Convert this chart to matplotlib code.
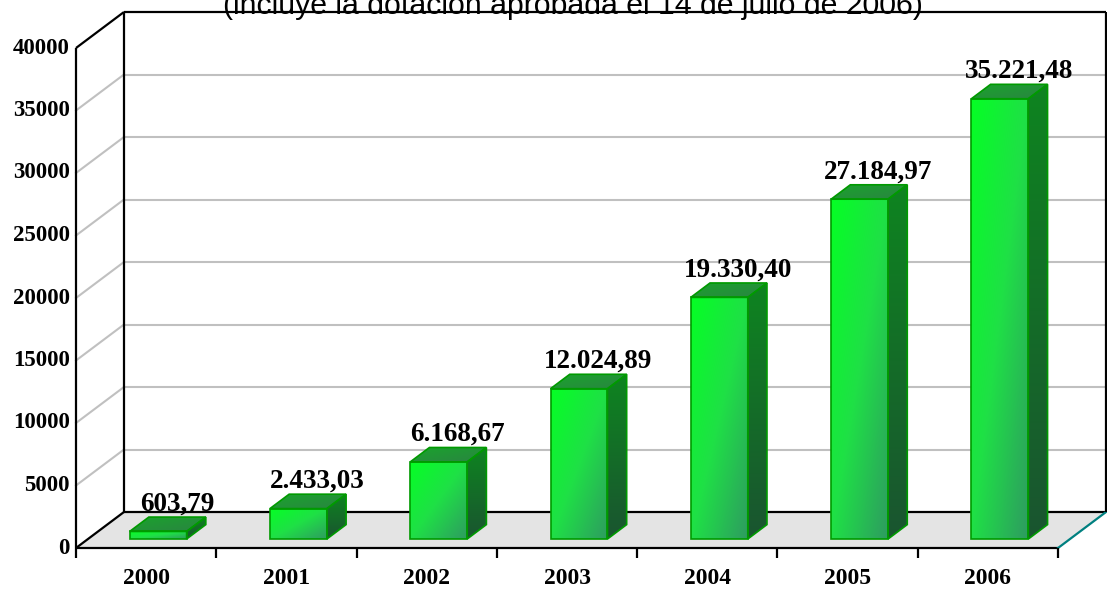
import numpy as np
import matplotlib
matplotlib.use('Agg')  # sin pantalla

import matplotlib.pyplot as plt
from matplotlib.colors import LinearSegmentedColormap
from matplotlib.patches import Polygon

# Datos
anos = ['2000', '2001', '2002', '2003', '2004', '2005', '2006']
valores = [603.79, 2433.03, 6168.67, 12024.89, 19330.40, 27184.97, 35221.48]
ticks_y = [0, 5000, 10000, 15000, 20000, 25000, 30000, 35000, 40000]
titulo = '(incluye la dotación aprobada el 14 de julio de 2006)'

# Perspectiva (en unidades de datos)
PROF_X, PROF_Y = 0.342, 2880       # fondo del suelo
INI = 0.25                          # profundidad donde empieza la barra
FON = 0.40                          # profundidad de la barra
ANCHO = 0.406                       # ancho de la cara frontal
YMAX = 40000

cmap_frente = LinearSegmentedColormap.from_list('frente', ['#05ff25', '#1fe046', '#2e9c60'])
cmap_lado = LinearSegmentedColormap.from_list('lado', ['#0e8420', '#1a5530'])
cmap_arriba = LinearSegmentedColormap.from_list('arriba', ['#1aa42c', '#2a8442'])
borde = '#009a00'


def degradado(ax, extent, cmap, clip=None, diagonal=True, z=3):
    u, v = np.meshgrid(np.linspace(0, 1, 64), np.linspace(0, 1, 64))
    t = (u + v) / 2 if diagonal else v
    im = ax.imshow(t, cmap=cmap, extent=extent, origin='upper', aspect='auto',
                   interpolation='bilinear', zorder=z, vmin=0, vmax=1)
    if clip is not None:
        im.set_clip_path(clip)
    return im


fig = plt.figure(figsize=(11.07, 5.92), dpi=100)
ax = fig.add_axes([0, 0, 1, 1])

n = len(anos)
negro = dict(color='black', lw=1.6, zorder=2, solid_capstyle='butt')

# Suelo
suelo = Polygon([(0, 0), (n, 0), (n + PROF_X, PROF_Y), (PROF_X, PROF_Y)],
                closed=True, facecolor='#e4e4e4', edgecolor='none', zorder=1)
ax.add_patch(suelo)
ax.plot([0, n], [0, 0], **negro)
ax.plot([0, PROF_X], [0, PROF_Y], **negro)
ax.plot([PROF_X, n + PROF_X], [PROF_Y, PROF_Y], **negro)
ax.plot([n, n + PROF_X], [0, PROF_Y], color='#008080', lw=1.6, zorder=2)

# Rejilla en paredes
for t in ticks_y[1:-1]:
    ax.plot([0, PROF_X], [t, t + PROF_Y], color='#c0c0c0', lw=1.5, zorder=1)
    ax.plot([PROF_X, n + PROF_X], [t + PROF_Y, t + PROF_Y], color='#c0c0c0', lw=1.5, zorder=1)

# Bordes de las paredes
ax.plot([0, 0], [0, YMAX], **negro)
ax.plot([0, PROF_X], [YMAX, YMAX + PROF_Y], **negro)
ax.plot([PROF_X, PROF_X], [PROF_Y, YMAX + PROF_Y], **negro)
ax.plot([PROF_X, n + PROF_X], [YMAX + PROF_Y, YMAX + PROF_Y], **negro)
ax.plot([n + PROF_X, n + PROF_X], [PROF_Y, YMAX + PROF_Y], **negro)

# Marcas del eje X
for i in range(n + 1):
    ax.plot([i, i], [0, -800], **negro)

# Barras
dx0, dy0 = PROF_X * INI, PROF_Y * INI
dxb, dyb = PROF_X * FON, PROF_Y * FON
for i, v in enumerate(valores):
    x0 = i + 0.5 + dx0 - ANCHO / 2
    x1 = x0 + ANCHO
    y0 = dy0
    y1 = dy0 + v

    # lado derecho
    lado = Polygon([(x1, y0), (x1 + dxb, y0 + dyb), (x1 + dxb, y1 + dyb), (x1, y1)],
                   closed=True, facecolor='none', edgecolor=borde, lw=1.2, zorder=4)
    ax.add_patch(lado)
    degradado(ax, [x1, x1 + dxb, y0, y1 + dyb], cmap_lado, clip=lado, diagonal=False)

    # tapa
    tapa = Polygon([(x0, y1), (x1, y1), (x1 + dxb, y1 + dyb), (x0 + dxb, y1 + dyb)],
                   closed=True, facecolor='none', edgecolor=borde, lw=1.2, zorder=4)
    ax.add_patch(tapa)
    degradado(ax, [x0, x1 + dxb, y1, y1 + dyb], cmap_arriba, clip=tapa)

    # frente
    frente = Polygon([(x0, y0), (x1, y0), (x1, y1), (x0, y1)],
                     closed=True, facecolor='none', edgecolor=borde, lw=1.2, zorder=4)
    ax.add_patch(frente)
    degradado(ax, [x0, x1, y0, y1], cmap_frente, clip=frente)

    # etiqueta de valor
    txt = f'{v:,.2f}'.replace(',', 'X').replace('.', ',').replace('X', '.')
    ax.text(i + 0.72, v + 2400, txt, ha='center', va='baseline',
            family='Liberation Serif', weight='bold', fontsize=19.5, zorder=6)

# Etiquetas de ejes
for t in ticks_y:
    ax.text(-0.045, t, str(t), ha='right', va='center',
            family='Liberation Serif', weight='bold', fontsize=16.5)
for i, a in enumerate(anos):
    ax.text(i + 0.5, -2400, a, ha='center', va='center',
            family='Liberation Serif', weight='bold', fontsize=17)

# Título (cortado arriba, como en el original)
ax.text(3.54, YMAX + PROF_Y - 130, titulo, ha='center', va='baseline',
        family='Liberation Sans', fontsize=21.8, zorder=6)

ax.set_xlim(-76 / 140.29, (1107 - 76) / 140.29)
ax.set_ylim(-(592 - 548) / 0.0125, 548 / 0.0125)
ax.axis('off')

fig.savefig('out.png', dpi=100, facecolor='white')
plt.close(fig)
